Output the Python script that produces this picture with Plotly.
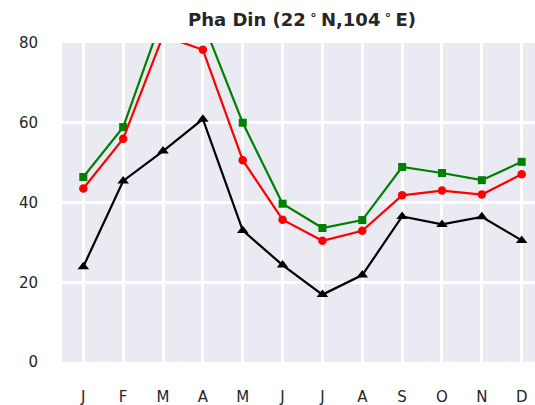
import plotly.graph_objects as go

# Monthly values for Pha Din
months = ["J", "F", "M", "A", "M", "J", "J", "A", "S", "O", "N", "D"]
month_index = list(range(1, 13))

series_green = [46.4, 58.9, 87.0, 85.3, 60.0, 39.7, 33.6, 35.6, 48.9, 47.4, 45.6, 50.2]
series_red = [43.5, 56.0, 81.8, 78.3, 50.6, 35.7, 30.4, 32.9, 41.8, 43.0, 42.0, 47.1]
series_black = [23.9, 45.4, 52.9, 60.9, 33.0, 24.3, 16.9, 21.8, 36.5, 34.5, 36.4, 30.5]

y_ticks = [0, 20, 40, 60, 80]

fig = go.Figure()

fig.add_trace(go.Scatter(
    x=month_index, y=series_green, mode="lines+markers",
    line=dict(color="#008000", width=2.2),
    marker=dict(symbol="square", size=8, color="#008000"),
    showlegend=False,
))
fig.add_trace(go.Scatter(
    x=month_index, y=series_red, mode="lines+markers",
    line=dict(color="#FF0000", width=2.2),
    marker=dict(symbol="circle", size=8.5, color="#FF0000"),
    showlegend=False,
))
fig.add_trace(go.Scatter(
    x=month_index, y=series_black, mode="lines+markers",
    line=dict(color="#000000", width=2.2),
    marker=dict(symbol="triangle-up", size=10, color="#000000"),
    showlegend=False,
))

font_family = "DejaVu Sans"

fig.update_layout(
    width=535, height=405,
    margin=dict(l=62, r=0, t=43, b=43),
    paper_bgcolor="white",
    plot_bgcolor="#EAEAF2",
    font=dict(family=font_family, color="#262626", size=15),
    title=dict(
        text="<b>Pha Din (22\u2009<sup>∘</sup>\u2009N,104\u2009<sup>∘</sup>\u2009E)</b>",
        x=302 / 535, xref="container", xanchor="center",
        y=1 - 20 / 405, yref="container", yanchor="middle",
        font=dict(family=font_family, size=18, color="#262626"),
    ),
    xaxis=dict(
        range=[0.465, 12.334],
        tickvals=month_index, ticktext=months,
        showgrid=True, gridcolor="white", gridwidth=2.5,
        zeroline=False, showline=False, ticks="",
        ticklabelstandoff=24,
        tickfont=dict(size=15, color="#262626"),
    ),
    yaxis=dict(
        range=[0, 80],
        tickvals=y_ticks,
        showgrid=True, gridcolor="white", gridwidth=2.5,
        zeroline=False, showline=False, ticks="",
        ticklabelstandoff=23,
        tickfont=dict(size=15, color="#262626"),
    ),
)

fig.write_html("out.html")
